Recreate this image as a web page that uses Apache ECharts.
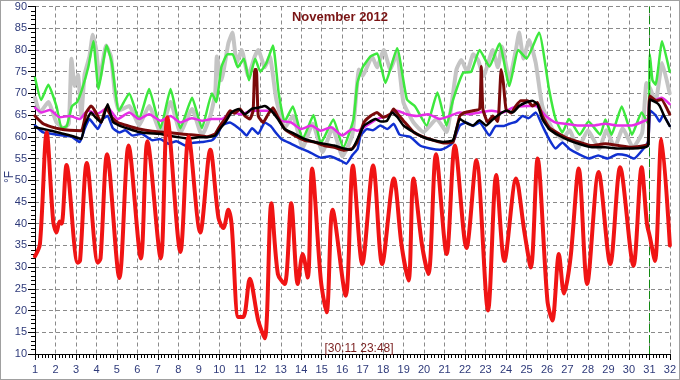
<!DOCTYPE html>
<html><head><meta charset="utf-8">
<script src="https://cdn.jsdelivr.net/npm/echarts@6/dist/echarts.min.js"></script>
<style>
html,body{margin:0;padding:0;background:#fff;}
#c{width:680px;height:380px;box-sizing:border-box;border:1px solid #a0a0a0;}
#chart{width:678px;height:378px;}
</style></head>
<body><div id="c"><div id="chart"></div></div>
<script>
const chartTitle = 'November 2012';
const stampText = '[30:11 23:48]';
const unitText = '°F';
const dayTicks = {min: 1, max: 32, step: 1};
const tempTicks = {min: 10, max: 90, step: 5};
const markerDay = 31;

// [day, °F]
const outdoor = [[1.0,32.5],[1.24,35.3],[1.57,61],[1.89,40.5],[2.05,38],[2.2,40.5],[2.3,40],[2.54,53.5],[3.08,31],[3.2,31.5],[3.53,54],[4.07,31],[4.2,32],[4.52,56],[5.12,27.5],[5.57,58],[6.17,32],[6.49,59],[7.14,32],[7.46,64.5],[8.1,33.5],[8.5,60],[9.07,38],[9.56,57],[9.96,41.3],[10.2,39],[10.44,43.2],[10.6,39.8],[10.93,18.5],[11.17,18.5],[11.49,27.3],[11.9,17.7],[12.22,13.6],[12.54,44.7],[12.86,28.4],[13.19,26.1],[13.51,44.7],[13.83,26.1],[14.07,33],[14.32,27.6],[14.53,52.7],[14.96,26.9],[15.24,19.6],[15.53,43.2],[16.17,23.4],[16.52,53.4],[16.98,30.7],[17.51,53.4],[17.95,30.7],[18.52,50.4],[18.9,35],[19.24,26.9],[19.48,50.4],[19.9,35],[20.21,28.4],[20.58,56],[21.1,33],[21.5,58],[22.07,34.4],[22.55,54.6],[23.12,20],[23.52,51.2],[23.92,31.4],[24.49,50.4],[24.9,38],[25.21,29.9],[25.54,55],[26.02,22.3],[26.26,17.7],[26.58,33],[26.83,23.9],[27.15,32.2],[27.55,52.7],[27.96,26.1],[28.52,51.9],[29.09,30.7],[29.57,53],[30.22,30.3],[30.62,53],[30.88,40],[31.02,37],[31.27,31.4],[31.59,59.5],[32.0,35]];

const greenSeries = [[1.0,73.6],[1.3,68.5],[1.65,72],[2.05,67],[2.3,62],[2.55,62.5],[2.8,67],[3.05,68],[3.3,71],[3.6,76],[3.85,82],[4.1,71],[4.5,81],[4.75,77],[5.1,66],[5.6,70],[6.08,64],[6.57,71],[7.13,62],[7.62,71],[8.1,62],[8.67,69],[9.15,62],[9.64,70],[9.85,68],[10.1,76],[10.4,79],[10.65,79],[10.9,76],[11.2,78],[11.45,73],[11.75,78],[12.0,75],[12.3,77],[12.62,81],[12.9,70],[13.19,63.5],[13.59,67],[14.07,59.5],[14.6,65],[14.96,58.5],[15.57,64],[16.05,57.5],[16.55,64],[16.74,72.4],[17.0,76],[17.38,78.5],[17.71,79.2],[18.11,72.4],[18.68,80.4],[19.16,68.6],[19.56,67],[20.12,62.6],[20.65,70.2],[21.09,62.6],[21.42,68.6],[21.9,74.7],[22.3,75],[22.71,80],[23.19,76.2],[23.68,81.5],[24.16,71.7],[24.6,80],[25.0,78],[25.61,84],[26.1,70.9],[26.42,64.1],[26.75,61],[27.07,64.1],[27.6,60.5],[28.03,63.5],[28.6,60.5],[28.85,64],[29.15,60.5],[29.65,67],[30.15,60.5],[30.62,65.6],[30.94,63],[31.02,79],[31.15,73],[31.3,72],[31.62,82],[31.99,75]];

const graySeries = [[1.0,69],[1.24,65.6],[1.65,68],[2.05,63.3],[2.4,62],[2.65,63],[2.78,78],[2.94,71.7],[3.1,74.3],[3.26,64.8],[3.42,74.3],[3.66,78.5],[3.82,83.5],[3.99,80],[4.15,73.2],[4.47,81],[4.71,78.5],[4.9,70],[5.1,66],[5.6,67.1],[6.08,62.6],[6.57,67.1],[7.13,61],[7.62,68],[8.1,61],[8.67,66.4],[9.15,60.3],[9.56,64.8],[9.8,70],[9.88,78.5],[10.1,73],[10.44,81.5],[10.64,84],[10.85,77],[11.09,80],[11.41,74],[11.73,78.5],[11.9,80],[12.22,76],[12.46,78.5],[12.78,68.6],[13.19,62],[13.59,64.8],[14.07,57.5],[14.56,63],[15.04,56.5],[15.53,62],[16.01,55.5],[16.5,60.5],[16.82,75.5],[17.0,74],[17.46,78.5],[17.7,76],[18.03,80],[18.35,75.5],[18.67,79.3],[18.99,67.9],[19.48,63.3],[19.96,61.1],[20.61,64.1],[21.09,61.1],[21.58,75.5],[21.82,77.7],[22.1,75],[22.4,79],[22.63,77.7],[22.9,74],[23.35,80],[23.6,76],[23.8,80.8],[24.16,73.2],[24.48,80],[24.64,84],[24.85,78],[25.13,82.3],[25.45,77],[25.77,67.1],[26.26,61.8],[26.74,59.5],[27.1,61.5],[27.5,57.2],[28.0,61.5],[28.55,57.2],[28.9,61.5],[29.3,57.5],[29.7,62],[30.2,57.5],[30.65,61],[30.86,72.4],[31.05,71],[31.3,68],[31.62,77],[31.99,70]];

const magentaSeries = [[1.0,66.7],[1.32,65.6],[1.73,66.2],[2.21,64.5],[2.7,64.8],[3.18,64.1],[3.58,66],[4.05,65.3],[4.55,66.7],[5.04,64.1],[5.6,65.6],[6.08,64.1],[6.57,65.2],[7.13,63.7],[7.62,64.8],[8.1,63.3],[8.65,64.3],[9.15,63.7],[9.64,64.1],[10.12,64.1],[10.6,65.6],[11.08,65.2],[11.57,66],[12.06,66],[12.54,66],[13.03,63.7],[13.51,63.3],[13.99,61.8],[14.48,62.6],[14.96,61.4],[15.45,62.2],[16.01,60.3],[16.5,61.8],[16.73,61.4],[17.2,62.6],[17.7,64.1],[18.2,64.8],[18.67,66],[19.15,65.2],[19.64,64.8],[20.2,65.2],[20.77,64.1],[21.25,64.8],[21.74,65.6],[22.2,65.2],[22.71,65.6],[23.3,66],[23.84,65.6],[24.32,66.7],[24.97,67.1],[25.45,67.1],[25.94,64.8],[26.42,63.3],[26.9,63],[27.55,62.6],[28.2,62.6],[28.84,63],[29.5,62.6],[30.13,62.6],[30.78,63.7],[30.94,64.1],[31.02,69],[31.3,68.5],[31.6,69],[31.99,67.5]];

const blueSeries = [[1.0,62.6],[1.4,61],[1.8,60.7],[2.37,60.3],[2.8,60],[3.18,58.8],[3.42,61.8],[3.66,64.1],[3.85,63],[4.07,61.8],[4.31,64.1],[4.55,64.8],[4.8,62],[5.12,61],[5.4,61.5],[5.76,60.3],[6.2,60.7],[6.73,59.2],[7.1,59.5],[7.54,58.4],[7.9,59],[8.35,58],[8.7,58.6],[9.15,58.8],[9.64,59.2],[9.96,61],[10.12,62.6],[10.52,63.3],[10.8,62.5],[11.09,61.4],[11.33,60.3],[11.6,62],[11.9,60.7],[12.22,63.3],[12.5,62.5],[12.75,61],[13.03,59.5],[13.51,58.4],[14.0,57.3],[14.4,56.5],[14.96,55.2],[15.4,55.5],[15.93,54.5],[16.2,53.8],[16.5,55.8],[16.75,57.2],[16.9,60.3],[17.22,61.8],[17.5,61.5],[17.86,62.6],[18.2,61.8],[18.51,63],[18.8,60.5],[19.32,60],[19.8,58],[20.3,57.3],[20.77,57],[21.1,57.6],[21.41,58.8],[21.74,62.6],[22.06,63.3],[22.4,62.5],[22.71,63.3],[23.19,60.3],[23.5,62.5],[23.9,62.5],[24.16,63],[24.5,63.5],[24.81,64.8],[25.1,64.3],[25.45,65.6],[25.77,62.6],[26.1,59.5],[26.42,57.3],[26.75,58.7],[27.1,57.2],[27.55,56],[28.05,55],[28.5,55.7],[28.95,55],[29.45,56],[29.9,55.7],[30.25,55],[30.7,57.2],[30.94,59],[31.05,66],[31.3,65],[31.5,63.5],[31.67,65],[31.99,62.5]];

const maroonSeries = [[1.0,64.8],[1.4,63],[1.8,62.3],[2.21,61.8],[2.7,61.5],[3.26,61.4],[3.5,65.6],[3.74,67.1],[3.95,65.8],[4.23,63.3],[4.47,66.7],[4.75,64.5],[5.04,63.3],[5.55,62.5],[6.08,61.8],[6.57,61.4],[7.05,61.1],[7.55,61],[8.02,60.7],[8.5,60.5],[8.99,60.3],[9.4,60],[9.8,60.7],[10.04,62.6],[10.28,64.1],[10.52,66],[10.75,65.4],[11.01,66.4],[11.25,64.8],[11.49,64.1],[11.65,66],[11.73,75.5],[11.81,75.5],[11.9,64.8],[12.14,63.3],[12.38,65.2],[12.62,66.7],[12.86,64.5],[13.19,61.8],[13.67,60.3],[14.16,59.2],[14.64,58.8],[15.12,58],[15.61,57.6],[16.09,56.9],[16.5,57.3],[16.73,58.8],[17.06,63.3],[17.38,64.8],[17.7,65.6],[18.0,64.5],[18.35,65.2],[18.51,66.4],[18.75,65],[19.07,63.3],[19.48,61.1],[19.95,60],[20.45,59.2],[20.95,58.6],[21.41,58.8],[21.74,64.8],[21.98,65.6],[22.38,66],[22.71,66.4],[22.79,76.2],[22.87,66.4],[23.11,63.3],[23.35,64.8],[23.6,63.5],[23.76,75.5],[23.87,72.4],[24.0,66.4],[24.25,65.5],[24.48,67.1],[24.72,68.3],[25.05,68.3],[25.29,67.1],[25.53,67.9],[25.77,64.8],[26.1,62.2],[26.58,60.7],[27.07,59.5],[27.55,58.8],[28.19,58],[28.84,58.4],[29.49,58],[30.13,57.6],[30.78,58],[30.94,58.4],[31.02,69.4],[31.34,68.3],[31.58,68.6],[31.99,65.2]];

const blackSeries = [[1.0,62.2],[1.4,61.8],[1.9,61.3],[2.37,60.7],[2.8,60.2],[3.26,59.5],[3.42,62.6],[3.74,65.6],[3.95,64.5],[4.23,63.3],[4.55,67.5],[4.8,63.5],[5.12,62.6],[5.6,61.8],[6.08,61.1],[6.57,60.8],[7.05,60.7],[7.5,60.3],[8.02,59.9],[8.5,59.6],[8.99,59.9],[9.4,59.9],[9.8,60.3],[9.96,61.4],[10.28,63.3],[10.6,65.6],[10.93,66.4],[11.25,65.2],[11.57,66.4],[11.9,66.7],[12.22,67.1],[12.54,66],[12.86,64.1],[13.19,61.8],[13.67,60.7],[14.16,59.5],[14.64,58.8],[15.12,58.4],[15.61,58],[16.09,57.3],[16.45,57],[16.75,59.5],[17.05,62.5],[17.3,63.3],[17.62,64.1],[17.9,63.5],[18.19,63.7],[18.43,65.6],[18.7,64.5],[18.99,62.6],[19.48,61.1],[19.96,59.9],[20.45,59.2],[20.93,58.8],[21.41,59.2],[21.74,64.1],[22.05,63.2],[22.38,62.6],[22.7,63.8],[23.03,62.6],[23.35,64],[23.68,65.2],[24.0,66],[24.32,65.6],[24.64,67.1],[24.97,67.9],[25.29,68.3],[25.53,67.5],[25.77,64.1],[26.1,61.8],[26.58,60.3],[27.07,59.2],[27.55,58.4],[28.19,57.6],[28.84,57.6],[29.49,57.3],[30.13,57.3],[30.78,57.6],[30.94,58],[31.02,68.6],[31.34,67.9],[31.5,67.1],[31.75,64.5],[31.99,62.5]];

const axisTextColor = '#2e3a7a';
const chart = echarts.init(document.getElementById('chart'), null, {renderer: 'canvas'});

function line(name, data, color, width, z, smooth) {
  return {
    name: name, type: 'line', data: data, showSymbol: false, symbol: 'none',
    smooth: smooth, z: z, animation: false,
    lineStyle: {color: color, width: width, join: 'round', cap: 'round'}
  };
}

const series = [
  line('gray', graySeries, '#c4c4c4', 4, 2, 0.15),
  line('green', greenSeries, '#3de83d', 2.5, 3, 0.15),
  line('magenta', magentaSeries, '#e62ee6', 2.5, 4, 0.2),
  line('blue', blueSeries, '#1030d0', 2.5, 5, 0.15),
  line('maroon', maroonSeries, '#7a0a0a', 3, 6, 0.15),
  line('black', blackSeries, '#000000', 2.5, 7, 0.15),
  line('outdoor', outdoor, '#f01414', 4, 8, 0.3)
];
series[6].markLine = {
  silent: true, symbol: ['none', 'none'], animation: false,
  label: {show: false},
  lineStyle: {color: '#138a13', type: [8, 3], width: 1},
  data: [{xAxis: markerDay}]
};

chart.setOption({
  animation: false,
  backgroundColor: '#ffffff',
  grid: {left: 34, right: 4, top: 2, bottom: 25, containLabel: false},
  xAxis: {
    type: 'value', min: dayTicks.min, max: dayTicks.max, interval: dayTicks.step,
    axisLine: {show: true, lineStyle: {color: '#000', width: 1}},
    axisTick: {show: true, inside: false, length: 6, lineStyle: {color: '#000'}},
    minorTick: {show: true, splitNumber: 6, length: 4, lineStyle: {color: '#000'}},
    axisLabel: {color: axisTextColor, fontSize: 11, fontFamily: 'Liberation Sans, Arial, sans-serif', margin: 10, showMinLabel: true, showMaxLabel: true},
    splitLine: {show: true, lineStyle: {color: '#8a8a8a', type: [4, 3], width: 1}}
  },
  yAxis: {
    type: 'value', min: tempTicks.min, max: tempTicks.max, interval: tempTicks.step,
    axisLine: {show: true, lineStyle: {color: '#000', width: 1}},
    axisTick: {show: true, inside: false, length: 7, lineStyle: {color: '#000'}},
    minorTick: {show: true, splitNumber: 5, length: 4, lineStyle: {color: '#000'}},
    axisLabel: {color: axisTextColor, fontSize: 11, fontFamily: 'Liberation Sans, Arial, sans-serif', margin: 8},
    splitLine: {show: true, lineStyle: {color: '#8a8a8a', type: [4, 3], width: 1}}
  },
  graphic: [
    {type: 'text', left: 'center', top: 10, z: 100,
     style: {text: chartTitle, fill: '#7a1414', font: 'bold 13px "Liberation Sans", Arial, sans-serif'}},
    {type: 'text', x: 358, y: 348, z: 100,
     style: {text: stampText, fill: '#7a1f1f', font: '12px "Liberation Sans", Arial, sans-serif', textAlign: 'center', textVerticalAlign: 'middle'}},
    {type: 'text', x: 9, y: 176, rotation: Math.PI / 2, z: 100,
     style: {text: unitText, fill: axisTextColor, font: '12px "Liberation Sans", Arial, sans-serif', textAlign: 'center', textVerticalAlign: 'middle'}}
  ],
  series: series
});
</script></body></html>
